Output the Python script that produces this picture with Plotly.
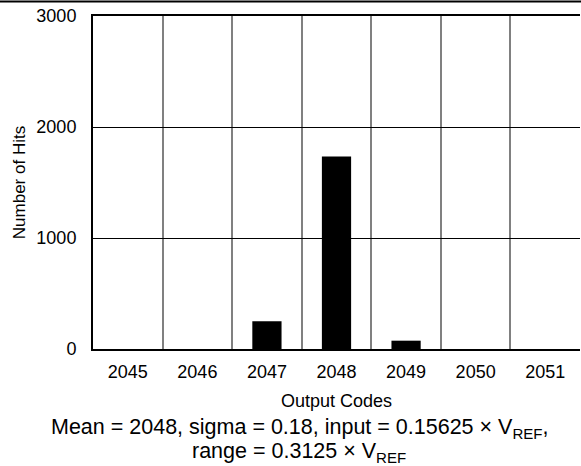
import plotly.graph_objects as go

codes = [2045, 2046, 2047, 2048, 2049, 2050, 2051]
hits = [0, 0, 250, 1735, 75, 0, 0]
y_ticks = [0, 1000, 2000, 3000]

W, H = 581, 466
L, R, T, B = 93, 1, 16, 117
pw, ph = W - L - R, H - T - B

fig = go.Figure(go.Bar(x=codes, y=hits, width=0.42, marker=dict(color="black", line=dict(width=0))))

font = "Liberation Sans, Arial, sans-serif"
fig.update_layout(
    width=W, height=H,
    margin=dict(l=L, r=R, t=T, b=B, pad=0),
    paper_bgcolor="white", plot_bgcolor="white",
    showlegend=False,
    font=dict(family=font, color="black", size=18),
    xaxis=dict(
        range=[codes[0] - 0.5, codes[-1] + 0.5],
        tickvals=codes, ticktext=[str(c) for c in codes],
        showgrid=False, zeroline=False,
        showline=True, linecolor="black", linewidth=2, mirror=True,
        ticks="", ticklabelstandoff=5,
        tickfont=dict(size=18),
        minor=dict(tick0=codes[0] - 0.5, dtick=1, showgrid=True, gridcolor="#808080", gridwidth=1.5, ticks=""),
        title=dict(text="Output Codes", font=dict(size=18), standoff=14),
    ),
    yaxis=dict(
        range=[0, 3000], tickvals=y_ticks,
        showgrid=True, gridcolor="black", gridwidth=1,
        zeroline=False,
        showline=True, linecolor="black", linewidth=2,
        ticks="", ticklabelstandoff=11,
        tickfont=dict(size=18),
        title=dict(text="Number of Hits", font=dict(size=17), standoff=6),
    ),
)

fig.add_shape(type="line", xref="paper", yref="paper",
              x0=-L / pw, x1=1 + R / pw, y0=1 + (T - 1.5) / ph, y1=1 + (T - 1.5) / ph,
              line=dict(color="black", width=2))

line1 = "Mean = 2048, sigma = 0.18, input = 0.15625 × V<sub>REF</sub>,"
line2 = "range = 0.3125 × V<sub>REF</sub>"
for txt, yc in [(line1, 428), (line2, 452)]:
    fig.add_annotation(
        xref="paper", yref="paper",
        x=(299 - L) / pw, y=-(yc - (T + ph)) / ph,
        xanchor="center", yanchor="middle", showarrow=False,
        text=txt,
        font=dict(size=21.5, family=font, color="black"),
    )

fig.write_html("out.html", config={"displayModeBar": False},
               post_script="document.body.style.margin='0';document.body.style.padding='0';")
